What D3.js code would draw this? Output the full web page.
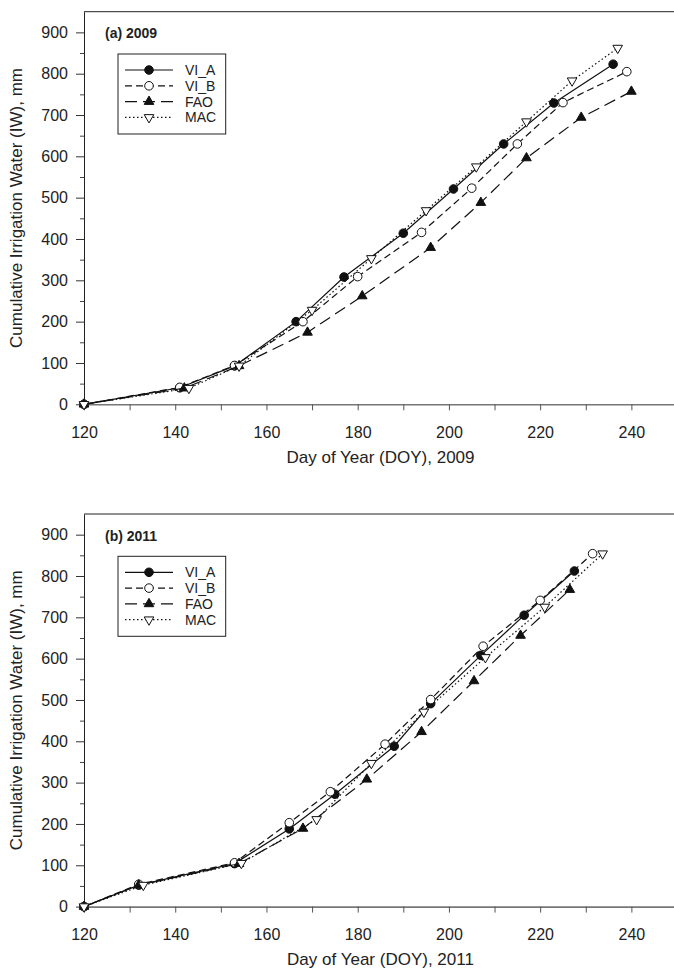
<!DOCTYPE html>
<html>
<head>
<meta charset="utf-8">
<script src="https://cdn.jsdelivr.net/npm/d3@7"></script>
<style>
  body { margin: 0; background: #fff; }
  text { font-family: Arial, "Liberation Sans", sans-serif; fill: #222; }
</style>
</head>
<body>
<svg id="chart" width="674" height="971"></svg>
<script>
// series names shown in the legend
const seriesNames = ["VI_A", "VI_B", "FAO", "MAC"];

// 2009: [day of year, cumulative irrigation water (mm)]
const viA2009 = [[120, 0], [141, 40], [153, 93], [166.5, 200], [177, 308], [190, 414], [201, 521], [212, 630], [223, 729], [236, 823]];
const viB2009 = [[120, 0], [141, 41], [153, 94], [168, 200], [180, 309], [194, 416], [205, 523], [215, 630], [225, 730], [239, 805]];
const fao2009 = [[120, 0], [142, 39], [154, 93], [169, 174], [181, 262], [196, 379], [207, 488], [217, 596], [229, 694], [240, 757]];
const mac2009 = [[120, 0], [143, 39], [154, 93], [170, 228], [183, 353], [195, 469], [206, 575], [217, 684], [227, 783], [237, 862]];

// 2011
const viA2011 = [[120, 0], [132, 52], [153, 104], [165, 188], [175, 272], [188, 388], [196, 491], [207, 608], [216.5, 705], [227.5, 812]];
const viB2011 = [[120, 0], [132, 54], [153, 106], [165, 203], [174, 278], [186, 393], [196, 501], [207.5, 630], [220, 741], [231.5, 854]];
const fao2011 = [[120, 0], [132, 52], [154, 104], [168, 189], [182, 308], [194, 423], [205.5, 546], [215.7, 656], [226.5, 767]];
const mac2011 = [[120, 0], [133, 52], [154.5, 105], [171, 211], [183, 347], [194.5, 471], [208, 603], [221, 725], [233.7, 854]];

// axis ticks
const xTicks = [120, 130, 140, 150, 160, 170, 180, 190, 200, 210, 220, 230, 240, 250];
const yTicks = [0, 100, 200, 300, 400, 500, 600, 700, 800, 900];
const yMinorTicks = [50, 150, 250, 350, 450, 550, 650, 750, 850];

const svg = d3.select("#chart");

// shared x scale (right end runs past the picture edge, like the original)
const x = d3.scaleLinear().domain([120, 250]).range([84, 677]);

// line dash + marker style per series
const styles = {
  VI_A: { dash: null, shape: "circle", fill: "#111" },
  VI_B: { dash: "7,4", shape: "circle", fill: "#fff" },
  FAO: { dash: "12,6", shape: "up", fill: "#111" },
  MAC: { dash: "1.5,2.5", shape: "down", fill: "#fff" }
};

const drawMarker = (g, shape, fill, cx, cy) => {
  if (shape === "circle") {
    g.append("circle")
      .attr("cx", cx).attr("cy", cy).attr("r", 4.3)
      .attr("fill", fill).attr("stroke", "#111").attr("stroke-width", 1);
  } else {
    g.append("path")
      .attr("d", d3.symbol(d3.symbolTriangle, 40)())
      .attr("transform", `translate(${cx},${cy})` + (shape === "down" ? " rotate(180)" : ""))
      .attr("fill", fill).attr("stroke", "#111").attr("stroke-width", 1);
  }
};

const drawPanel = (top, label, year, data) => {
  const bottom = top + 392.6;
  const y = d3.scaleLinear().domain([0, 950]).range([bottom, top]);
  const g = svg.append("g");

  // top border
  g.append("line")
    .attr("x1", x(120)).attr("x2", x(250))
    .attr("y1", top).attr("y2", top)
    .attr("stroke", "#222").attr("stroke-width", 1);

  // x-axis
  const xAxis = g.append("g")
    .attr("transform", `translate(0,${bottom})`)
    .call(d3.axisBottom(x).tickValues(xTicks).tickSize(6).tickSizeOuter(0).tickPadding(16)
      .tickFormat((d) => (d % 20 === 0 && d < 250 ? d : "")));
  xAxis.select(".domain").attr("stroke", "#777").attr("stroke-width", 1.6);
  xAxis.selectAll(".tick line").attr("stroke", "#555");
  xAxis.selectAll("text").style("font-size", "16px").attr("fill", "#222");

  // y-axis minor ticks
  const yMinor = g.append("g")
    .attr("transform", `translate(${x(120)},0)`)
    .call(d3.axisLeft(y).tickValues(yMinorTicks).tickSize(4).tickFormat(""));
  yMinor.select(".domain").remove();
  yMinor.selectAll(".tick line").attr("stroke", "#444");

  // y-axis
  const yAxis = g.append("g")
    .attr("transform", `translate(${x(120)},0)`)
    .call(d3.axisLeft(y).tickValues(yTicks).tickSize(8).tickSizeOuter(0).tickPadding(8));
  yAxis.select(".domain").attr("stroke", "#222");
  yAxis.selectAll(".tick line").attr("stroke", "#333");
  yAxis.selectAll("text").style("font-size", "16px").attr("fill", "#222");

  // axis titles
  g.append("text")
    .attr("x", (x(120) + x(250)) / 2)
    .attr("y", bottom + 58.5)
    .attr("text-anchor", "middle")
    .style("font-size", "17px")
    .text(`Day of Year (DOY), ${year}`);

  g.append("text")
    .attr("transform", "rotate(-90)")
    .attr("x", -(top + bottom) / 2)
    .attr("y", 22)
    .attr("text-anchor", "middle")
    .style("font-size", "17px")
    .text("Cumulative Irrigation Water (IW), mm");

  // panel label
  g.append("text")
    .attr("x", 105)
    .attr("y", top + 26.5)
    .style("font-size", "14px")
    .style("font-weight", "bold")
    .text(label);

  // series lines + markers
  const line = d3.line().x((d) => x(d[0])).y((d) => y(d[1]));
  seriesNames.forEach((name, i) => {
    const st = styles[name];
    g.append("path")
      .datum(data[i])
      .attr("d", line)
      .attr("fill", "none")
      .attr("stroke", "#111")
      .attr("stroke-width", 1.2)
      .attr("stroke-dasharray", st.dash);
    data[i].forEach((d) => drawMarker(g, st.shape, st.fill, x(d[0]), y(d[1])));
  });

  // legend
  const lg = g.append("g");
  lg.append("rect")
    .attr("x", 118).attr("y", top + 42.3)
    .attr("width", 107.7).attr("height", 80)
    .attr("fill", "#fff").attr("stroke", "#222").attr("stroke-width", 1);
  seriesNames.forEach((name, i) => {
    const st = styles[name];
    const ry = top + 58.3 + i * 15.8;
    lg.append("line")
      .attr("x1", 125).attr("x2", 173)
      .attr("y1", ry).attr("y2", ry)
      .attr("stroke", "#111").attr("stroke-width", 1.2)
      .attr("stroke-dasharray", st.dash);
    drawMarker(lg, st.shape, st.fill, 149, ry);
    lg.append("text")
      .attr("x", 185).attr("y", ry)
      .attr("dy", "0.35em")
      .style("font-size", "14px")
      .text(name);
  });
};

drawPanel(11.7, "(a) 2009", 2009, [viA2009, viB2009, fao2009, mac2009]);
drawPanel(514, "(b) 2011", 2011, [viA2011, viB2011, fao2011, mac2011]);
</script>
</body>
</html>
